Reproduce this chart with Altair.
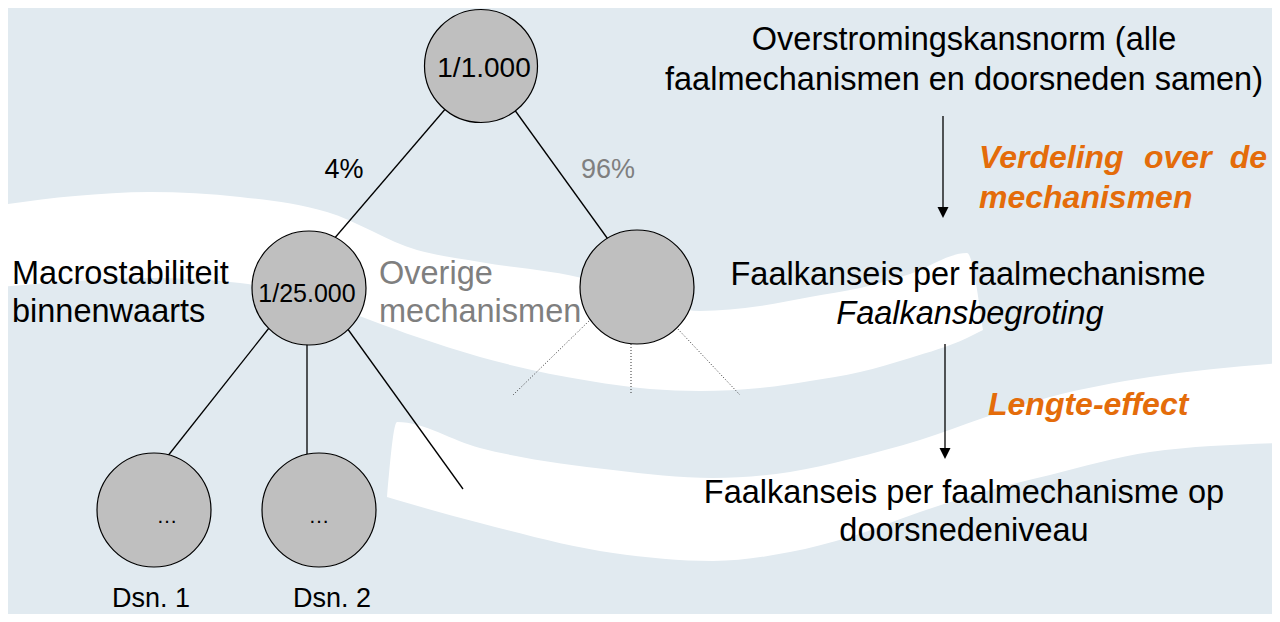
import altair as alt
import pandas as pd

# ---------------- data ----------------
BG = "#E1EAF0"
ORANGE = "#E46C0A"
GRAY_TXT = "#7F7F7F"
FONT = "Liberation Sans"

# white wave bands (x, upper edge, lower edge)
band1_x = [0, 75, 150, 240, 327, 417, 480, 590, 650, 700, 760, 810, 860, 910, 967, 983]
band1_top = [205, 196, 192, 197, 212, 250, 262, 280, 300, 311, 306, 297, 288, 274, 253, 330]
band1_bot = [287, 281, 278, 283, 305, 337, 357, 381, 389, 391, 388, 381, 372, 358, 338, 330]

band2_x = [387, 397, 480, 613, 713, 790, 850, 920, 983, 1050, 1150, 1280]
band2_top = [497, 422, 448, 470, 478, 472, 459, 440, 418, 397, 377, 363]
band2_bot = [497, 500, 523, 553, 561, 552, 537, 512, 492, 475, 452, 443]

# tree nodes (centre and diameter)
node_x = [481, 309, 637, 154, 319]
node_y = [66, 288, 287, 510, 510]
node_d = [113, 114, 114, 114, 114]

# solid tree edges
edge_x1 = [447, 514, 269, 307, 347]
edge_y1 = [107, 109, 328, 342, 328]
edge_x2 = [333, 610, 167, 307, 463]
edge_y2 = [240, 242, 457, 457, 489]

# dotted edges of "overige mechanismen"
dot_x1 = [591, 631, 676]
dot_y1 = [319, 341, 327]
dot_x2 = [513, 631, 740]
dot_y2 = [395, 395, 395]

# arrows (x, start, tip)
arrow_x = [943, 945]
arrow_y1 = [116, 344]
arrow_tip = [218, 459]

# texts
main_txt = ["Overstromingskansnorm (alle", "faalmechanismen en doorsneden samen)",
            "Faalkanseis per faalmechanisme", "Faalkanseis per faalmechanisme op",
            "doorsnedeniveau"]
main_x = [964, 964, 968, 964, 964]
main_y = [50, 90, 285, 503, 541]

ital_txt = ["Faalkansbegroting"]
ital_x = [970]
ital_y = [324]

left_txt = ["Macrostabiliteit", "binnenwaarts"]
left_x = [12, 12]
left_y = [284, 322]

grey_txt = ["Overige", "mechanismen"]
grey_x = [379, 379]
grey_y = [284, 322]

or_txt = ["Verdeling", "over", "mechanismen", "Lengte-effect"]
or_x = [979, 1144, 979, 988]
or_y = [168, 168, 208, 415]
or_r_txt = ["de"]
or_r_x = [1267]
or_r_y = [168]

num_txt = ["1/1.000", "1/25.000"]
num_x = [484, 307]
num_y = [77, 302]
num_size = [28, 25]

pct_txt = ["4%", "96%"]
pct_x = [344, 608]
pct_y = [178, 178]
pct_col = ["black", GRAY_TXT]

dsn_txt = ["Dsn. 1", "Dsn. 2"]
dsn_x = [151, 332]
dsn_y = [607, 607]

ell_txt = ["\u2026", "\u2026"]
ell_x = [167, 319]
ell_y = [523, 523]

# ---------------- scales ----------------
W, H = 1264, 606
xs = alt.Scale(domain=[8, 8 + W], nice=False, zero=False)
ys = alt.Scale(domain=[8, 8 + H], nice=False, zero=False, reverse=True)
X = lambda f: alt.X(f, type="quantitative", scale=xs, axis=None)
Y = lambda f: alt.Y(f, type="quantitative", scale=ys, axis=None)


def band(xv, top, bot):
    df = pd.DataFrame({"x": xv, "top": top, "bot": bot})
    return alt.Chart(df).mark_area(color="white", interpolate="monotone", clip=True).encode(
        x=X("x:Q"), y=Y("top:Q"), y2="bot:Q")


layers = [band(band1_x, band1_top, band1_bot), band(band2_x, band2_top, band2_bot)]

edges = pd.DataFrame({"x1": edge_x1, "y1": edge_y1, "x2": edge_x2, "y2": edge_y2})
layers.append(alt.Chart(edges).mark_rule(color="black", strokeWidth=1.3).encode(
    x=X("x1:Q"), y=Y("y1:Q"), x2="x2:Q", y2="y2:Q"))

dots = pd.DataFrame({"x1": dot_x1, "y1": dot_y1, "x2": dot_x2, "y2": dot_y2})
layers.append(alt.Chart(dots).mark_rule(color="#333333", strokeWidth=1, strokeDash=[1, 2]).encode(
    x=X("x1:Q"), y=Y("y1:Q"), x2="x2:Q", y2="y2:Q"))

nodes = pd.DataFrame({"x": node_x, "y": node_y, "d": node_d})
nodes["area"] = nodes["d"] ** 2  # Vega circle symbol: radius = sqrt(size) / 2
layers.append(alt.Chart(nodes).mark_point(shape="circle", filled=True, fill="#BFBFBF", stroke="black",
                                          strokeWidth=1.2, opacity=1, fillOpacity=1).encode(
    x=X("x:Q"), y=Y("y:Q"), size=alt.Size("area:Q", scale=None)))

arrows = pd.DataFrame({"x": arrow_x, "y1": arrow_y1, "tip": arrow_tip})
arrows["shaft_end"] = arrows["tip"] - 8
arrows["head_c"] = arrows["tip"] - 5.5
layers.append(alt.Chart(arrows).mark_rule(color="black", strokeWidth=1.3).encode(
    x=X("x:Q"), y=Y("y1:Q"), y2="shaft_end:Q"))
layers.append(alt.Chart(arrows).mark_point(shape="M -1 -1 L 1 -1 L 0 1 Z", filled=True, color="black",
                                           size=121, opacity=1).encode(
    x=X("x:Q"), y=Y("head_c:Q")))


def texts(txt, xv, yv, size, color="black", align="center", style="normal", weight="normal"):
    df = pd.DataFrame({"t": txt, "x": xv, "y": yv})
    return alt.Chart(df).mark_text(font=FONT, fontSize=size, color=color, align=align,
                                   baseline="alphabetic", fontStyle=style, fontWeight=weight).encode(
        x=X("x:Q"), y=Y("y:Q"), text="t:N")


layers.append(texts(main_txt, main_x, main_y, 32.5))
layers.append(texts(ital_txt, ital_x, ital_y, 32.5, style="italic"))
layers.append(texts(left_txt, left_x, left_y, 32.5, align="left"))
layers.append(texts(grey_txt, grey_x, grey_y, 32.5, color=GRAY_TXT, align="left"))
layers.append(texts(or_txt, or_x, or_y, 32, color=ORANGE, align="left", style="italic", weight="bold"))
layers.append(texts(or_r_txt, or_r_x, or_r_y, 32, color=ORANGE, align="right", style="italic", weight="bold"))
for i in range(len(num_txt)):
    layers.append(texts([num_txt[i]], [num_x[i]], [num_y[i]], num_size[i]))
for i in range(len(pct_txt)):
    layers.append(texts([pct_txt[i]], [pct_x[i]], [pct_y[i]], 27, color=pct_col[i]))
layers.append(texts(dsn_txt, dsn_x, dsn_y, 27))
layers.append(texts(ell_txt, ell_x, ell_y, 21))

chart = alt.layer(*layers).properties(
    width=W, height=H, padding=0, background=BG,
    autosize=alt.AutoSizeParams(type="none"),
).configure_view(strokeWidth=0, fill=BG)

chart.save("out.html", embed_options={"renderer": "svg", "actions": False})
